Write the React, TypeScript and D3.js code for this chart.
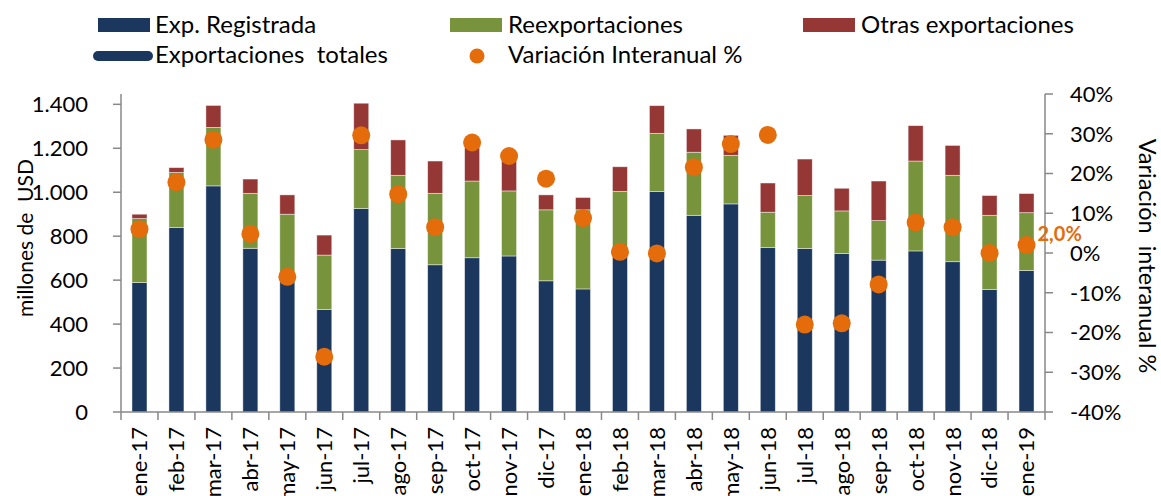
import React from 'react';
import * as d3 from 'd3';

const months = ['ene-17', 'feb-17', 'mar-17', 'abr-17', 'may-17', 'jun-17', 'jul-17', 'ago-17', 'sep-17', 'oct-17', 'nov-17', 'dic-17',
  'ene-18', 'feb-18', 'mar-18', 'abr-18', 'may-18', 'jun-18', 'jul-18', 'ago-18', 'sep-18', 'oct-18', 'nov-18', 'dic-18', 'ene-19'];
// millones de USD
const registrada = [589, 839, 1029, 745, 594, 466, 926, 744, 670, 702, 710, 597, 560, 710, 1003, 895, 947, 748, 744, 721, 691, 733, 684, 557, 644];
const reexport = [291, 251, 266, 250, 306, 248, 268, 333, 325, 349, 296, 323, 360, 294, 265, 287, 221, 161, 241, 194, 180, 409, 393, 338, 263];
const otras = [20, 22, 100, 65, 88, 91, 211, 161, 147, 159, 149, 68, 56, 112, 126, 106, 91, 133, 166, 103, 180, 161, 136, 90, 87];
// variación interanual %
const variacion = [6.0, 17.8, 28.5, 4.8, -6.0, -26.1, 29.6, 14.8, 6.5, 27.8, 24.4, 18.7, 8.8, 0.3, -0.1, 21.6, 27.4, 29.7, -18.0, -17.7, -7.9, 7.7, 6.5, 0.0, 2.0];
const leftTicks = [0, 200, 400, 600, 800, 1000, 1200, 1400];
const rightTicks = [-40, -30, -20, -10, 0, 10, 20, 30, 40];

const colors = { reg: '#1b375e', reex: '#77933c', otras: '#953735', dot: '#e46c0a', axis: '#888888' };
const font = 'Lato, "Open Sans", sans-serif';

const locale = d3.formatLocale({ decimal: ',', thousands: '.', grouping: [3], currency: ['', ''] });
const fmtNum = locale.format(',d');

const App = () => {
  const width = 1161, height = 496;
  const left = 121, right = 1045, top = 94, bottom = 412;

  const x = d3.scaleBand().domain(months).range([left, right]).paddingInner(0.594).paddingOuter(0.297);
  const yL = d3.scaleLinear().domain([0, 1447]).range([bottom, top]);
  const yR = d3.scaleLinear().domain([-40, 40]).range([bottom, top]);
  const step = x.step();
  const gap = (step - x.bandwidth()) / 2;

  const rows = months.map((m, i) => ({ m, reg: registrada[i], reex: reexport[i], otras: otras[i] }));
  const stack = d3.stack().keys(['reg', 'reex', 'otras'])(rows as any);
  const fills = [colors.reg, colors.reex, colors.otras];

  const boundaries = months.map(m => (x(m) as number) - gap).concat([right]);
  const last = months.length - 1;

  return (<svg width={width} height={height} style={{ position: 'absolute', left: 0, top: 0 }} fontFamily={font}>
    {/* barras */}
    {stack.map((layer, k) => (
      <g key={k} fill={fills[k]}>
        {layer.map((d, i) => (
          <rect key={i} x={x(months[i])} width={x.bandwidth()} y={yL(d[1])} height={yL(d[0]) - yL(d[1])}
            stroke="rgba(255,255,255,0.55)" strokeWidth="0.8" />
        ))}
      </g>
    ))}

    {/* ejes */}
    <g stroke={colors.axis} strokeWidth="1.5" fill="none">
      <line x1={left} x2={left} y1={top} y2={bottom} />
      <line x1={right} x2={right} y1={top} y2={bottom} />
      <line x1={left} x2={right} y1={bottom} y2={bottom} />
      {leftTicks.map(t => <line key={t} x1={left - 8} x2={left} y1={yL(t)} y2={yL(t)} />)}
      {rightTicks.map(t => <line key={t} x1={right} x2={right + 8} y1={yR(t)} y2={yR(t)} />)}
      {boundaries.map((b, i) => <line key={i} x1={b} x2={b} y1={bottom} y2={bottom + 8} />)}
    </g>

    <g fontSize="22" fill="#000">
      {leftTicks.map(t => <text key={t} x={88} y={yL(t)} dy="0.36em" textAnchor="end">{fmtNum(t)}</text>)}
      {rightTicks.map(t => <text key={t} x={1070} y={yR(t)} dy="0.36em">{t + '%'}</text>)}
      {months.map(m => {
        const cx = (x(m) as number) + x.bandwidth() / 2;
        return <text key={m} transform={`translate(${cx}, 427) rotate(-90)`} dy="0.36em" textAnchor="end">{m}</text>;
      })}
      <text transform="translate(25, 238) rotate(-90)" dy="0.36em" textAnchor="middle" fontSize="21" style={{ whiteSpace: 'pre' }}>millones de  USD</text>
      <text transform="translate(1147, 256) rotate(90)" dy="0.36em" textAnchor="middle" fontSize="23.5" style={{ whiteSpace: 'pre' }}>Variación  interanual %</text>
    </g>

    {/* variación interanual */}
    <g fill={colors.dot}>
      {variacion.map((v, i) => (
        <circle key={i} cx={(x(months[i]) as number) + x.bandwidth() / 2} cy={yR(v)} r="9" />
      ))}
    </g>
    <text x={(x(months[last]) as number) + x.bandwidth() / 2 + 11} y={yR(variacion[last]) - 4} fill={colors.dot}
      fontSize="20" fontWeight="bold">{variacion[last].toFixed(1).replace('.', ',') + '%'}</text>

    {/* leyenda */}
    <g fontSize="24" fill="#000">
      <rect x={98} y={18} width={52} height={14} fill={colors.reg} />
      <text x={155} y={32.5}>Exp. Registrada</text>
      <rect x={450} y={18} width={52} height={14} fill={colors.reex} />
      <text x={508} y={32.5}>Reexportaciones</text>
      <rect x={803} y={18} width={52} height={14} fill={colors.otras} />
      <text x={861} y={32.5}>Otras exportaciones</text>
      <line x1={98} x2={148} y1={56} y2={56} stroke={colors.reg} strokeWidth="10" strokeLinecap="round" />
      <text x={155} y={63} style={{ whiteSpace: 'pre' }}>Exportaciones  totales</text>
      <circle cx={477} cy={56} r={7.5} fill={colors.dot} />
      <text x={508} y={63}>Variación Interanual %</text>
    </g>
  </svg>);
};

export default App;
